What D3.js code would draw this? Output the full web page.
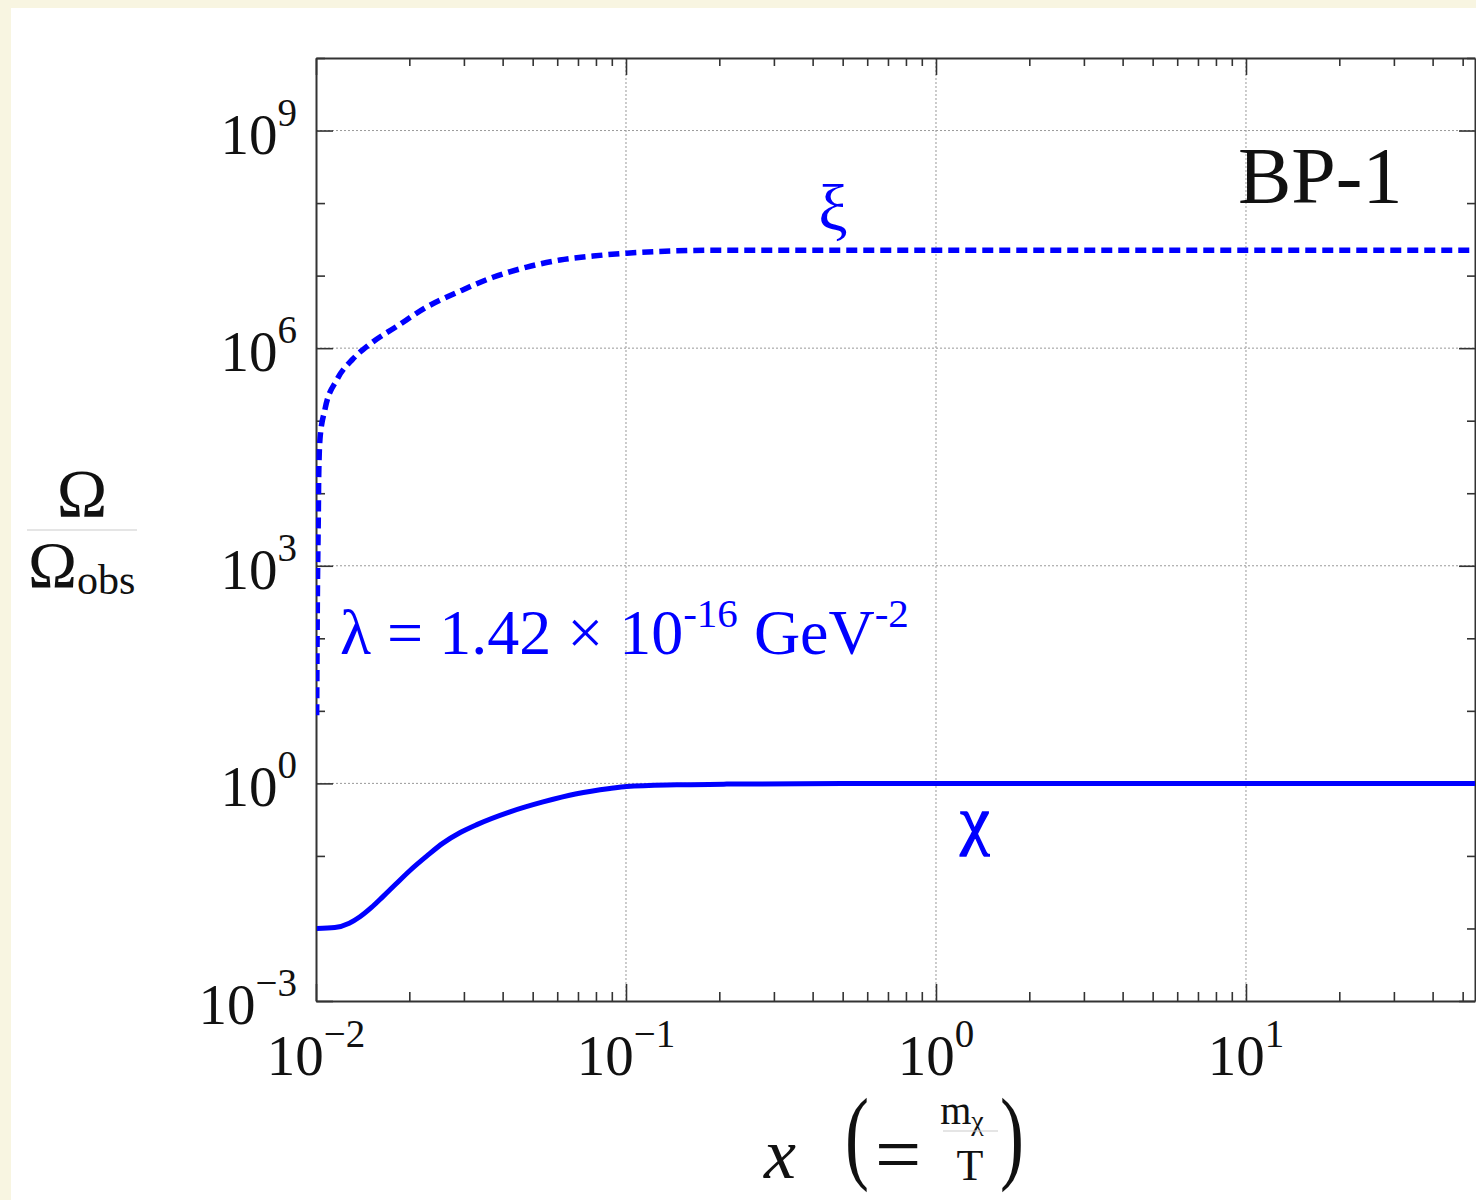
<!DOCTYPE html>
<html>
<head>
<meta charset="utf-8">
<script src="https://cdn.jsdelivr.net/npm/d3@7/dist/d3.min.js"></script>
<style>
  body { margin: 0; background: #f8f5e1; }
  svg { display: block; }
  .axis path, .axis line { stroke: #333; }
  .axis path { stroke-width: 2; }
  .axis line { stroke-width: 1.6; }
  .grid line { stroke: #999; stroke-width: 1; stroke-dasharray: 2,2; }
  text { font-family: "Liberation Serif", "DejaVu Serif", serif; }
</style>
</head>
<body>
<div id="chart"></div>
<script>
// data (x = m/T, y = Omega / Omega_obs)
var chiX = [0.01007, 0.0115, 0.0128, 0.01386, 0.0151, 0.01644, 0.0181, 0.0201, 0.0228, 0.02568, 0.0292, 0.03303, 0.04225, 0.054, 0.06931, 0.08873, 0.1005, 0.1457, 0.2112, 0.5, 1, 10, 54.8];
var chiY = [0.0100, 0.0103, 0.0118, 0.0145, 0.0195, 0.0275, 0.0410, 0.0630, 0.100, 0.150, 0.210, 0.270, 0.405, 0.555, 0.720, 0.850, 0.905, 0.955, 0.977, 0.995, 1.0, 1.0, 1.0];

var xiX = [0.01005, 0.0101, 0.01018, 0.0102, 0.0103, 0.01069, 0.01169, 0.01316, 0.01494, 0.01824, 0.02278, 0.02913, 0.03724, 0.04787, 0.06121, 0.07826, 0.1005, 0.2, 1, 10, 54.8];
var xiY = [8.7, 316, 6.3e3, 1.55e4, 5.6e4, 1.44e5, 3.7e5, 7.1e5, 1.14e6, 2.0e6, 3.7e6, 6.1e6, 9.5e6, 1.31e7, 1.64e7, 1.86e7, 2.04e7, 2.24e7, 2.24e7, 2.24e7, 2.24e7];

var xDomain = [0.01, 54.8];
var yDomain = [1e-3, 1e10];

var xMajor = [1e-2, 1e-1, 1e0, 1e1];
var xTickLabels = [["10", "\u22122"], ["10", "\u22121"], ["10", "0"], ["10", "1"]];
var yMajor = [1e-3, 1e0, 1e3, 1e6, 1e9];
var yTickLabels = [["10", "\u22123"], ["10", "0"], ["10", "3"], ["10", "6"], ["10", "9"]];
var yGrid = [1e0, 1e3, 1e6, 1e9];
var xGrid = [1e-1, 1e0, 1e1];

var margin = {top: 58, left: 316},
    width = 1475 - 316,
    height = 1001 - 58;

var svg = d3.select("#chart").append("svg")
    .attr("width", 1476)
    .attr("height", 1200);

svg.append("rect").attr("width", 1476).attr("height", 1200).attr("fill", "#f8f5e1");
svg.append("rect").attr("x", 11).attr("y", 8).attr("width", 1465).attr("height", 1192).attr("fill", "#ffffff");

var g = svg.append("g")
    .attr("transform", "translate(" + margin.left + "," + margin.top + ")");

var x = d3.scaleLog().domain(xDomain).range([0, width]);
var y = d3.scaleLog().domain(yDomain).range([height, 0]);

// minor ticks: every 1..9 inside each decade for x, every decade for y
var xMinor = x.ticks().filter(function(d) {
  return xMajor.indexOf(d) < 0 && d >= xDomain[0] && d <= xDomain[1];
});
var yMinor = d3.range(-3, 11).map(function(p) { return Math.pow(10, p); })
  .filter(function(d) { return !yMajor.some(function(m) { return Math.abs(Math.log10(m) - Math.log10(d)) < 1e-9; }); });

// grid
g.append("g").attr("class", "grid")
  .selectAll("line").data(yGrid).enter().append("line")
    .attr("x1", 0).attr("x2", width)
    .attr("y1", function(d) { return y(d); }).attr("y2", function(d) { return y(d); });
g.append("g").attr("class", "grid")
  .selectAll("line").data(xGrid).enter().append("line")
    .attr("y1", 0).attr("y2", height)
    .attr("x1", function(d) { return x(d); }).attr("x2", function(d) { return x(d); });

// axes, ticks pointing inward
function addAxis(axisFn, vals, size, transform) {
  var a = g.append("g").attr("class", "axis")
    .attr("transform", transform)
    .call(axisFn.tickValues(vals).tickSize(size).tickSizeOuter(0).tickFormat(""));
  return a;
}
addAxis(d3.axisBottom(x), xMinor, -9, "translate(0," + height + ")");
addAxis(d3.axisBottom(x), xMajor, -17, "translate(0," + height + ")").select(".domain").remove();
addAxis(d3.axisTop(x), xMinor, -8, "translate(0,0)");
addAxis(d3.axisTop(x), xMajor, -17, "translate(0,0)").select(".domain").remove();
addAxis(d3.axisLeft(y), yMinor, -9, "translate(0,0)");
addAxis(d3.axisLeft(y), yMajor, -17, "translate(0,0)").select(".domain").remove();
addAxis(d3.axisRight(y), yMinor, -8, "translate(" + width + ",0)");
addAxis(d3.axisRight(y), yMajor, -16, "translate(" + width + ",0)").select(".domain").remove();

// tick labels with superscripts
function powLabel(sel, parts) {
  sel.append("tspan").text(parts[0]);
  sel.append("tspan").attr("font-size", 39).attr("dy", -28).text(parts[1]);
}
xMajor.forEach(function(d, i) {
  var t = g.append("text")
    .attr("x", x(d)).attr("y", height + 74)
    .attr("text-anchor", "middle")
    .attr("font-size", 57).attr("fill", "#111");
  powLabel(t, xTickLabels[i]);
});
yMajor.forEach(function(d, i) {
  var t = g.append("text")
    .attr("x", -19).attr("y", y(d) + 23)
    .attr("text-anchor", "end")
    .attr("font-size", 57).attr("fill", "#111");
  powLabel(t, yTickLabels[i]);
});

// curves
g.append("clipPath").attr("id", "clip")
  .append("rect").attr("width", width).attr("height", height);

var line = d3.line()
  .x(function(d) { return x(d[0]); })
  .y(function(d) { return y(d[1]); })
  .curve(d3.curveMonotoneX);

g.append("path")
  .datum(chiX.map(function(v, i) { return [v, chiY[i]]; }))
  .attr("clip-path", "url(#clip)")
  .attr("fill", "none").attr("stroke", "#0000ff").attr("stroke-width", 5)
  .attr("d", line);

g.append("path")
  .datum(xiX.map(function(v, i) { return [v, xiY[i]]; }))
  .attr("clip-path", "url(#clip)")
  .attr("fill", "none").attr("stroke", "#0000ff").attr("stroke-width", 5.5)
  .attr("stroke-dasharray", "11,6")
  .attr("d", line);

// annotations
svg.append("text").attr("x", 833).attr("y", 230).attr("text-anchor", "middle")
  .attr("font-size", 66).attr("fill", "#0000ff").text("\u03be");
svg.append("text").attr("x", 975).attr("y", 842).attr("text-anchor", "middle")
  .attr("font-size", 66).attr("fill", "#0000ff")
  .attr("stroke", "#0000ff").attr("stroke-width", 1.5).text("\u03c7");
svg.append("text").attr("x", 1238).attr("y", 203)
  .attr("font-size", 80).attr("fill", "#111").text("BP-1");

var lam = svg.append("text").attr("x", 340).attr("y", 654)
  .attr("font-size", 64).attr("fill", "#0000ff");
lam.append("tspan").text("\u03bb = 1.42 \u00d7 10");
lam.append("tspan").attr("font-size", 41).attr("dy", -27).text("-16");
lam.append("tspan").attr("dy", 27).text(" GeV");
lam.append("tspan").attr("font-size", 41).attr("dy", -27).text("-2");

// y axis label
svg.append("text").attr("x", 82).attr("y", 516).attr("text-anchor", "middle")
  .attr("font-size", 68).attr("fill", "#111").text("\u03a9");
svg.append("line").attr("x1", 27).attr("x2", 137).attr("y1", 530).attr("y2", 530)
  .attr("stroke", "#ccc").attr("stroke-width", 1.2);
var om = svg.append("text").attr("x", 28).attr("y", 587)
  .attr("font-size", 66).attr("fill", "#111");
om.append("tspan").text("\u03a9");
om.append("tspan").attr("font-size", 42).attr("dy", 7).text("obs");

// x axis label
svg.append("text").attr("x", 780).attr("y", 1178).attr("text-anchor", "middle")
  .attr("font-size", 72).attr("font-style", "italic").attr("fill", "#111").text("x");
svg.append("text").attr("text-anchor", "middle")
  .attr("transform", "translate(857,1170) scale(1,1.45)")
  .attr("font-size", 72).attr("fill", "#111").text("(");
svg.append("text").attr("x", 898).attr("y", 1182).attr("text-anchor", "middle")
  .attr("font-size", 82).attr("fill", "#111").text("=");
svg.append("text").attr("x", 962).attr("y", 1124).attr("text-anchor", "middle")
  .attr("font-size", 40).attr("fill", "#111")
  .call(function(t) {
    t.append("tspan").text("m");
    t.append("tspan").attr("font-size", 28).attr("dy", 6).text("\u03c7");
  });
svg.append("line").attr("x1", 943).attr("x2", 998).attr("y1", 1131).attr("y2", 1131)
  .attr("stroke", "#ccc").attr("stroke-width", 1.2);
svg.append("text").attr("x", 970).attr("y", 1180).attr("text-anchor", "middle")
  .attr("font-size", 44).attr("fill", "#111").text("T");
svg.append("text").attr("text-anchor", "middle")
  .attr("transform", "translate(1012,1170) scale(1,1.45)")
  .attr("font-size", 72).attr("fill", "#111").text(")");
</script>
</body>
</html>
